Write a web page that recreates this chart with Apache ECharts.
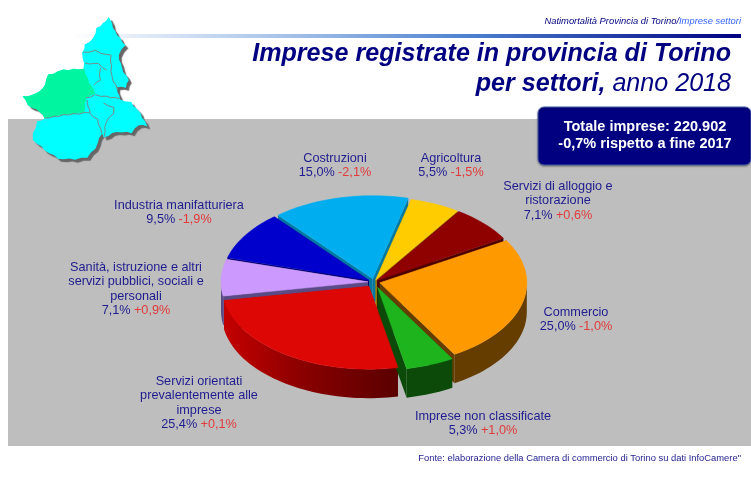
<!DOCTYPE html>
<html>
<head>
<meta charset="utf-8">
<title>Imprese registrate in provincia di Torino</title>
<script src="https://cdn.jsdelivr.net/npm/echarts@6/dist/echarts.min.js"></script>
<style>
  html, body { margin: 0; padding: 0; background: #fff; }
  #main { width: 751px; height: 481px; }
</style>
</head>
<body>
<div id="main"></div>
<script>
// dati: settori in senso orario a partire da Agricoltura
var sectors = [
  'Agricoltura',
  'Servizi di alloggio e\nristorazione',
  'Commercio',
  'Imprese non classificate',
  'Servizi orientati\nprevalentemente alle\nimprese',
  'Sanità, istruzione e altri\nservizi pubblici, sociali e\npersonali',
  'Industria manifatturiera',
  'Costruzioni'
];
var shares = [5.5, 7.1, 25.0, 5.3, 25.4, 7.1, 9.5, 15.0];
var changes = [-1.5, 0.6, -1.0, 1.0, 0.1, 0.9, -1.9, -2.1];

// aspetto della torta
var FONT = '"Liberation Sans", Arial, sans-serif';
var NAVY = '#000080';
var pie = { cx: 374, cy: 282, rx: 147, ry: 83, depth: 29, start: 14 };
var topColors = ['#ffcc00', '#8f0000', '#ff9900', '#1eb41e', '#dd0806', '#cc99ff', '#0000cc', '#00aeef'];
var wallColors = ['#a88600', '#4d0000', '#663d00', '#0b4a08', '#b00000', '#5a4a85', '#00006e', '#00789f'];
var explode = [4, 4, 6, 10, 9, 6, 6, 6];
var labelPos = [[451, 151], [558, 179], [576, 305], [483, 409], [199, 374], [136, 260], [179, 198], [335, 151]];

var total = shares.reduce(function (a, b) { return a + b; }, 0);
var slices = [];
var cum = pie.start;
shares.forEach(function (v, i) {
  var a1 = cum, a2 = cum + v / total * 360;
  var mid = (a1 + a2) / 2 * Math.PI / 180;
  slices.push({
    a1: a1, a2: a2, mid: mid,
    ox: pie.cx + explode[i] * Math.sin(mid),
    oy: pie.cy - explode[i] * Math.cos(mid) * pie.ry / pie.rx
  });
  cum = a2;
});

function rim(s, deg, down) {
  var r = deg * Math.PI / 180;
  return [s.ox + pie.rx * Math.sin(r), s.oy - pie.ry * Math.cos(r) + (down || 0)];
}
function arc(s, a1, a2, down) {
  var pts = [];
  var n = Math.max(2, Math.ceil((a2 - a1) / 2));
  for (var k = 0; k <= n; k++) pts.push(rim(s, a1 + (a2 - a1) * k / n, down));
  return pts;
}

function renderWalls(params, api) {
  var i = api.value(0);
  var s = slices[i];
  var d = pie.depth;
  var kids = [];
  [s.a1, s.a2].forEach(function (a) {
    var p = rim(s, a);
    kids.push({
      type: 'polygon',
      shape: { points: [[s.ox, s.oy], p, [p[0], p[1] + d], [s.ox, s.oy + d]] },
      style: { fill: wallColors[i] }
    });
  });
  var from = Math.max(s.a1, 90), to = Math.min(s.a2, 270);
  if (to > from) {
    var fill = wallColors[i];
    if (i === 4) {
      fill = new echarts.graphic.LinearGradient(0, 0, 1, 0, [
        { offset: 0, color: '#c40000' },
        { offset: 0.45, color: '#8a0000' },
        { offset: 1, color: '#5a0000' }
      ]);
    }
    kids.push({
      type: 'polygon',
      shape: { points: arc(s, from, to, 0).concat(arc(s, from, to, d).reverse()) },
      style: { fill: fill }
    });
  }
  return { type: 'group', children: kids };
}

function renderTops(params, api) {
  var i = api.value(0);
  var s = slices[i];
  return {
    type: 'polygon',
    shape: { points: [[s.ox, s.oy]].concat(arc(s, s.a1, s.a2, 0)) },
    style: { fill: topColors[i], stroke: topColors[i], lineWidth: 0.5 }
  };
}

// muri dal fondo verso il davanti
var wallOrder = shares.map(function (v, i) { return i; }).sort(function (a, b) {
  return Math.cos(slices[b].mid) - Math.cos(slices[a].mid);
});

function num(v) { return v.toFixed(1).replace('.', ','); }
function labelText(i) {
  var lines = sectors[i].split('\n').map(function (l) { return '{n|' + l + '}'; });
  var sign = changes[i] > 0 ? '+' : '-';
  lines.push('{n|' + num(shares[i]) + '%} {d|' + sign + num(Math.abs(changes[i])) + '%}');
  return lines.join('\n');
}
var labels = sectors.map(function (name, i) {
  return {
    type: 'text',
    x: labelPos[i][0],
    y: labelPos[i][1],
    silent: true,
    style: {
      text: labelText(i),
      align: 'center',
      rich: {
        n: { font: '12.7px ' + FONT, fill: '#1f1c8f', lineHeight: 14.5 },
        d: { font: '12.7px ' + FONT, fill: '#e23a3a', lineHeight: 14.5 }
      }
    }
  };
});

// cartina del Piemonte (decorazione), punti presi dal crop 3x
var mapOutline = [[325,52],[335,70],[345,95],[360,115],[375,135],[355,165],[365,205],[385,240],[378,262],[350,262],[360,300],[392,306],[420,340],[442,378],[415,375],[395,398],[350,395],[312,412],[305,400],[285,445],[262,472],[225,478],[175,475],[135,450],[100,420],[100,400],[112,365],[135,355],[120,335],[85,315],[68,290],[100,285],[130,265],[145,225],[190,210],[252,206],[248,158],[255,135],[280,115],[290,85],[310,70]];
var mapTorino = [[68,290],[100,285],[130,265],[145,225],[190,210],[252,206],[262,235],[285,280],[258,295],[252,338],[190,345],[135,355],[120,335],[85,315]];
var mapBorders = [
  [[250,158],[285,152],[320,165],[332,165]],
  [[255,190],[295,192],[320,210]],
  [[300,205],[300,240],[282,255]],
  [[332,165],[335,230],[352,268]],
  [[285,285],[320,290],[358,296]],
  [[258,295],[283,285]],
  [[260,300],[270,342],[292,358],[305,400]],
  [[310,310],[340,322],[340,340],[318,365],[312,410]],
  [[135,355],[190,345],[268,338]]
];
function jagged(pts, closed) {
  var out = [];
  var last = closed ? pts.length : pts.length - 1;
  for (var k = 0; k < last; k++) {
    var p = pts[k], q = pts[(k + 1) % pts.length];
    var dx = q[0] - p[0], dy = q[1] - p[1];
    var len = Math.sqrt(dx * dx + dy * dy);
    var n = Math.max(1, Math.round(len / 15));
    for (var j = 0; j < n; j++) {
      var t = j / n, off = j % 2 ? 1.5 : -1.5;
      out.push([(p[0] + dx * t - dy / len * off) / 3, (p[1] + dy * t + dx / len * off) / 3]);
    }
  }
  if (!closed) out.push([pts[last][0] / 3, pts[last][1] / 3]);
  return out;
}
var mapShapes = [
  {
    type: 'polygon', silent: true,
    shape: { points: jagged(mapOutline, true) },
    style: { fill: '#00ffff', shadowColor: '#666666', shadowBlur: 1, shadowOffsetX: 3, shadowOffsetY: 3 }
  },
  {
    type: 'polygon', silent: true,
    shape: { points: jagged(mapTorino, true) },
    style: { fill: '#00f5a0' }
  }
].concat(mapBorders.map(function (b) {
  return {
    type: 'polyline', silent: true,
    shape: { points: jagged(b, false) },
    style: { stroke: '#7a8a8a', lineWidth: 1, fill: null }
  };
}));

var graphics = [
  { type: 'rect', silent: true, shape: { x: 8, y: 119, width: 743, height: 327 }, style: { fill: '#bebebe' } },
  {
    type: 'rect', silent: true,
    shape: { x: 70, y: 34, width: 671, height: 4 },
    style: {
      fill: new echarts.graphic.LinearGradient(0, 0, 1, 0, [
        { offset: 0, color: '#ffffff' },
        { offset: 0.35, color: '#9dbce6' },
        { offset: 0.6, color: '#4a80d0' },
        { offset: 1, color: NAVY }
      ])
    }
  }
].concat(mapShapes).concat([
  {
    type: 'text', silent: true, x: 741, y: 17,
    style: {
      text: '{a|Natimortalità Provincia di Torino/}{b|Imprese settori}',
      align: 'right', verticalAlign: 'top',
      rich: {
        a: { font: 'italic 9.4px ' + FONT, fill: NAVY },
        b: { font: 'italic 9.4px ' + FONT, fill: '#3366ff' }
      }
    }
  },
  {
    type: 'text', silent: true, x: 731, y: 42,
    style: { text: 'Imprese registrate in provincia di Torino', align: 'right', font: 'italic bold 25.1px ' + FONT, fill: NAVY }
  },
  {
    type: 'text', silent: true, x: 731, y: 72,
    style: {
      text: '{a|per settori, }{b|anno 2018}',
      align: 'right',
      rich: {
        a: { font: 'italic bold 25.1px ' + FONT, fill: NAVY },
        b: { font: 'italic 25.1px ' + FONT, fill: NAVY }
      }
    }
  },
  {
    type: 'rect', silent: true,
    shape: { x: 538, y: 107, width: 213, height: 58, r: 6 },
    style: { fill: NAVY, stroke: '#4a5fa8', lineWidth: 1, shadowColor: 'rgba(0,0,0,0.35)', shadowBlur: 2, shadowOffsetY: 1 }
  },
  {
    type: 'text', silent: true, x: 645, y: 118,
    style: {
      text: 'Totale imprese: 220.902\n-0,7% rispetto a fine 2017',
      align: 'center', font: 'bold 14.5px ' + FONT, fill: '#ffffff', lineHeight: 17
    }
  },
  {
    type: 'text', silent: true, x: 741, y: 454,
    style: { text: 'Fonte: elaborazione della Camera di commercio di Torino su dati InfoCamere"', align: 'right', font: '9.4px ' + FONT, fill: '#1f1c8f' }
  }
]).concat(labels);

var myChart = echarts.init(document.getElementById('main'));
myChart.setOption({
  animation: false,
  backgroundColor: '#ffffff',
  graphic: { elements: graphics },
  series: [
    {
      type: 'custom',
      coordinateSystem: 'none',
      silent: true,
      z: 3,
      renderItem: renderWalls,
      data: wallOrder.map(function (i) { return [i]; })
    },
    {
      type: 'custom',
      coordinateSystem: 'none',
      silent: true,
      z: 4,
      renderItem: renderTops,
      data: shares.map(function (v, i) { return [i, v]; })
    }
  ]
});
</script>
</body>
</html>
